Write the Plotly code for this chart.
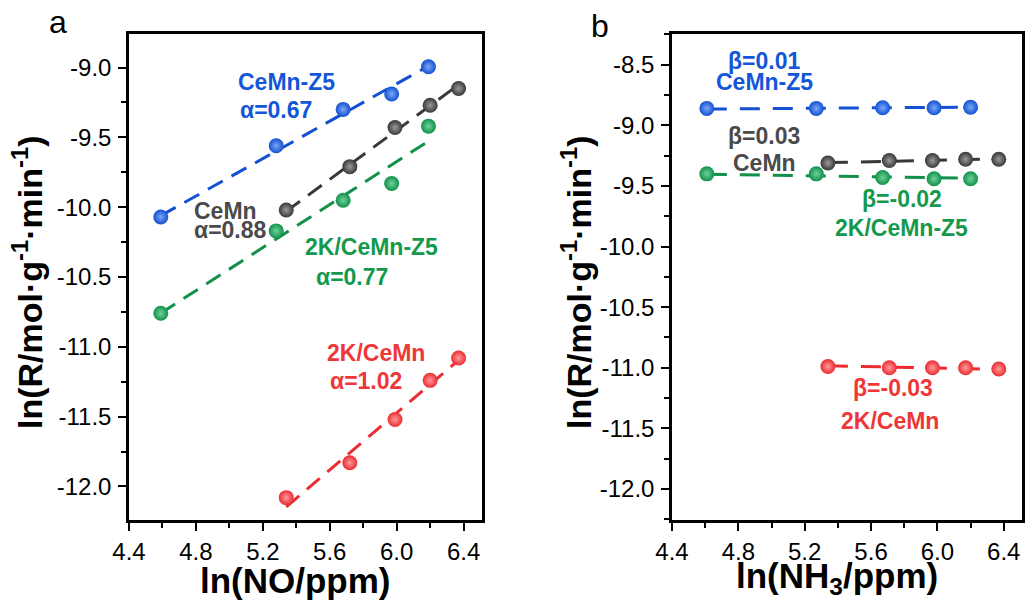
import numpy as np
import plotly.graph_objects as go

# ---------------- data: ln(R) versus ln(NO) (panel a) ----------------
no_x_z5 = [4.59, 5.28, 5.68, 5.97, 6.19]          # CeMn-Z5 and 2K/CeMn-Z5
no_x_cemn = [5.34, 5.72, 5.99, 6.20, 6.37]        # CeMn and 2K/CeMn
no_y_cemn_z5 = [-10.07, -9.56, -9.30, -9.19, -8.995]
no_y_cemn = [-10.02, -9.71, -9.43, -9.27, -9.15]
no_y_2k_cemn_z5 = [-10.76, -10.17, -9.95, -9.83, -9.42]
no_y_2k_cemn = [-12.08, -11.83, -11.52, -11.24, -11.08]
alpha = {"CeMn-Z5": 0.67, "CeMn": 0.88, "2K/CeMn-Z5": 0.77, "2K/CeMn": 1.02}

# ---------------- data: ln(R) versus ln(NH3) (panel b) ----------------
nh3_x_z5 = [4.61, 5.27, 5.67, 5.98, 6.20]
nh3_x_cemn = [5.34, 5.71, 5.97, 6.17, 6.37]
nh3_y_cemn_z5 = [-8.86, -8.86, -8.855, -8.855, -8.85]
nh3_y_cemn = [-9.31, -9.29, -9.29, -9.28, -9.28]
nh3_y_2k_cemn_z5 = [-9.40, -9.40, -9.43, -9.44, -9.44]
nh3_y_2k_cemn = [-10.99, -11.00, -11.00, -11.00, -11.01]
beta = {"CeMn-Z5": 0.01, "CeMn": 0.03, "2K/CeMn-Z5": -0.02, "2K/CeMn": -0.03}

x_ticks = [4.4, 4.8, 5.2, 5.6, 6.0, 6.4]
y_ticks_a = [-12.0, -11.5, -11.0, -10.5, -10.0, -9.5, -9.0]
y_ticks_b = [-12.0, -11.5, -11.0, -10.5, -10.0, -9.5, -9.0, -8.5]

colors = {
    "CeMn-Z5": ("#1350d2", "#7aa6f5"),
    "CeMn": ("#383838", "#9a9a9a"),
    "2K/CeMn-Z5": ("#12904a", "#6fd29a"),
    "2K/CeMn": ("#ea2c31", "#ff9a9a"),
}
text_colors = {
    "CeMn-Z5": "#1356d8",
    "CeMn": "#4a4a4a",
    "2K/CeMn-Z5": "#14994c",
    "2K/CeMn": "#ef3737",
}

FONT = "Liberation Sans, Arial, sans-serif"
W, H = 1025, 602
M_TOP, M_BOT = 34, 82
PLOT_H = H - M_TOP - M_BOT


def px_to_paper_y(py):
    """Convert a pixel row of the page to a paper y coordinate."""
    return (H - M_BOT - py) / PLOT_H


fig = go.Figure()


def add_series(name, xs, ys, slope, xa, ya, dash):
    edge, centre = colors[name]
    xs_arr = np.asarray(xs)
    ys_arr = np.asarray(ys)
    # fitted line with the reported order as its slope
    icpt = ys_arr.mean() - slope * xs_arr.mean()
    xf = np.array([xs_arr.min(), xs_arr.max()])
    fig.add_trace(go.Scatter(
        x=xf, y=icpt + slope * xf, mode="lines", xaxis=xa, yaxis=ya,
        line=dict(color=edge, width=3, dash=dash), showlegend=False,
        hoverinfo="skip"))
    fig.add_trace(go.Scatter(
        x=xs, y=ys, mode="markers", xaxis=xa, yaxis=ya, name=name,
        marker=dict(size=15, color=edge, line=dict(width=0),
                    gradient=dict(type="radial", color=centre)),
        showlegend=False))


dash_a = "17px,10px"
dash_b = "20px,13px"
add_series("CeMn-Z5", no_x_z5, no_y_cemn_z5, alpha["CeMn-Z5"], "x", "y", dash_a)
add_series("CeMn", no_x_cemn, no_y_cemn, alpha["CeMn"], "x", "y", dash_a)
add_series("2K/CeMn-Z5", no_x_z5, no_y_2k_cemn_z5, alpha["2K/CeMn-Z5"], "x", "y", dash_a)
add_series("2K/CeMn", no_x_cemn, no_y_2k_cemn, alpha["2K/CeMn"], "x", "y", dash_a)

add_series("CeMn-Z5", nh3_x_z5, nh3_y_cemn_z5, beta["CeMn-Z5"], "x2", "y2", dash_b)
add_series("CeMn", nh3_x_cemn, nh3_y_cemn, beta["CeMn"], "x2", "y2", dash_b)
add_series("2K/CeMn-Z5", nh3_x_z5, nh3_y_2k_cemn_z5, beta["2K/CeMn-Z5"], "x2", "y2", dash_b)
add_series("2K/CeMn", nh3_x_cemn, nh3_y_2k_cemn, beta["2K/CeMn"], "x2", "y2", dash_b)

tick_font = dict(family=FONT, size=24, color="black")


def xaxis_style(domain, anchor):
    return dict(
        domain=domain, range=[4.4, 6.51], anchor=anchor, automargin=False,
        showgrid=False, zeroline=False,
        showline=True, linecolor="black", linewidth=2.5, mirror=True,
        ticks="outside", ticklen=8, tickwidth=2, tickcolor="black",
        tickvals=x_ticks, ticktext=[f"{v:.1f}" for v in x_ticks],
        tickfont=tick_font, ticklabelstandoff=0,
        minor=dict(dtick=0.2, tick0=4.4, ticks="outside", ticklen=5,
                   tickwidth=2, tickcolor="black"),
    )


def yaxis_style(rng, ticks, anchor):
    return dict(
        domain=[0, 1], range=rng, anchor=anchor, automargin=False,
        showgrid=False, zeroline=False,
        showline=True, linecolor="black", linewidth=2.5, mirror=True,
        ticks="outside", ticklen=8, tickwidth=2, tickcolor="black",
        tickvals=ticks, ticktext=[f"{v:.1f}" for v in ticks],
        tickfont=tick_font, ticklabelstandoff=2,
        minor=dict(dtick=0.25, tick0=-12.0, ticks="outside", ticklen=5,
                   tickwidth=2, tickcolor="black"),
    )


fig.update_layout(
    width=W, height=H,
    margin=dict(l=0, r=0, t=M_TOP, b=M_BOT, autoexpand=False),
    paper_bgcolor="white", plot_bgcolor="white",
    xaxis=xaxis_style([129 / W, 482 / W], "y"),
    yaxis=yaxis_style([-12.24, -8.76], y_ticks_a, "x"),
    xaxis2=xaxis_style([672 / W, 1022 / W], "y2"),
    yaxis2=yaxis_style([-12.256, -8.246], y_ticks_b, "x2"),
)

ann_font = 23
annotations = []


def label(text, x, y, name, xref, yref, xanchor):
    annotations.append(dict(
        text=f"<b>{text}</b>", x=x, y=y, xref=xref, yref=yref,
        xanchor=xanchor, yanchor="middle", showarrow=False, borderpad=0,
        font=dict(family=FONT, size=ann_font, color=text_colors[name])))


# panel a labels
label("CeMn-Z5", 5.045, -9.107, "CeMn-Z5", "x", "y", "left")
label(f"α={alpha['CeMn-Z5']:.2f}", 5.055, -9.305, "CeMn-Z5", "x", "y", "left")
label("CeMn", 4.781, -10.024, "CeMn", "x", "y", "left")
label(f"α={alpha['CeMn']:.2f}", 4.785, -10.166, "CeMn", "x", "y", "left")
label("2K/CeMn-Z5", 5.448, -10.286, "2K/CeMn-Z5", "x", "y", "left")
label(f"α={alpha['2K/CeMn-Z5']:.2f}", 5.514, -10.50, "2K/CeMn-Z5", "x", "y", "left")
label("2K/CeMn", 5.58, -11.047, "2K/CeMn", "x", "y", "left")
label(f"α={alpha['2K/CeMn']:.2f}", 5.593, -11.245, "2K/CeMn", "x", "y", "left")

# panel b labels
label(f"β={beta['CeMn-Z5']:.2f}", 4.955, -8.467, "CeMn-Z5", "x2", "y2", "center")
label("CeMn-Z5", 4.96, -8.645, "CeMn-Z5", "x2", "y2", "center")
label(f"β={beta['CeMn']:.2f}", 4.954, -9.087, "CeMn", "x2", "y2", "center")
label("CeMn", 4.958, -9.307, "CeMn", "x2", "y2", "center")
label(f"β={beta['2K/CeMn-Z5']:.2f}", 5.784, -9.61, "2K/CeMn-Z5", "x2", "y2", "center")
label("2K/CeMn-Z5", 5.783, -9.844, "2K/CeMn-Z5", "x2", "y2", "center")
label(f"β={beta['2K/CeMn']:.2f}", 5.732, -11.17, "2K/CeMn", "x2", "y2", "center")
label("2K/CeMn", 5.715, -11.44, "2K/CeMn", "x2", "y2", "center")

# axis titles and panel letters, placed in paper coordinates
ytitle = "<b>ln(R/mol·g<sup>-1</sup>·min<sup>-1</sup>)</b>"
for xc in (27, 576):
    annotations.append(dict(
        text=ytitle, x=xc / W, y=px_to_paper_y(282), xref="paper", yref="paper",
        xanchor="center", yanchor="middle", textangle=-90, showarrow=False,
        font=dict(family=FONT, size=34, color="black")))
annotations.append(dict(
    text="<b>ln(NO/ppm)</b>", x=295 / W, y=px_to_paper_y(580), xref="paper",
    yref="paper", xanchor="center", yanchor="middle", showarrow=False,
    font=dict(family=FONT, size=35, color="black")))
annotations.append(dict(
    text="<b>ln(NH<sub>3</sub>/ppm)</b>", x=837 / W, y=px_to_paper_y(578),
    xref="paper", yref="paper", xanchor="center", yanchor="middle",
    showarrow=False, font=dict(family=FONT, size=35, color="black")))
for letter, xc, yc in (("a", 58, 22), ("b", 600, 26)):
    annotations.append(dict(
        text=letter, x=xc / W, y=px_to_paper_y(yc), xref="paper", yref="paper",
        xanchor="center", yanchor="middle", showarrow=False,
        font=dict(family=FONT, size=32, color="black")))

fig.update_layout(annotations=annotations)
fig.write_html("out.html")
